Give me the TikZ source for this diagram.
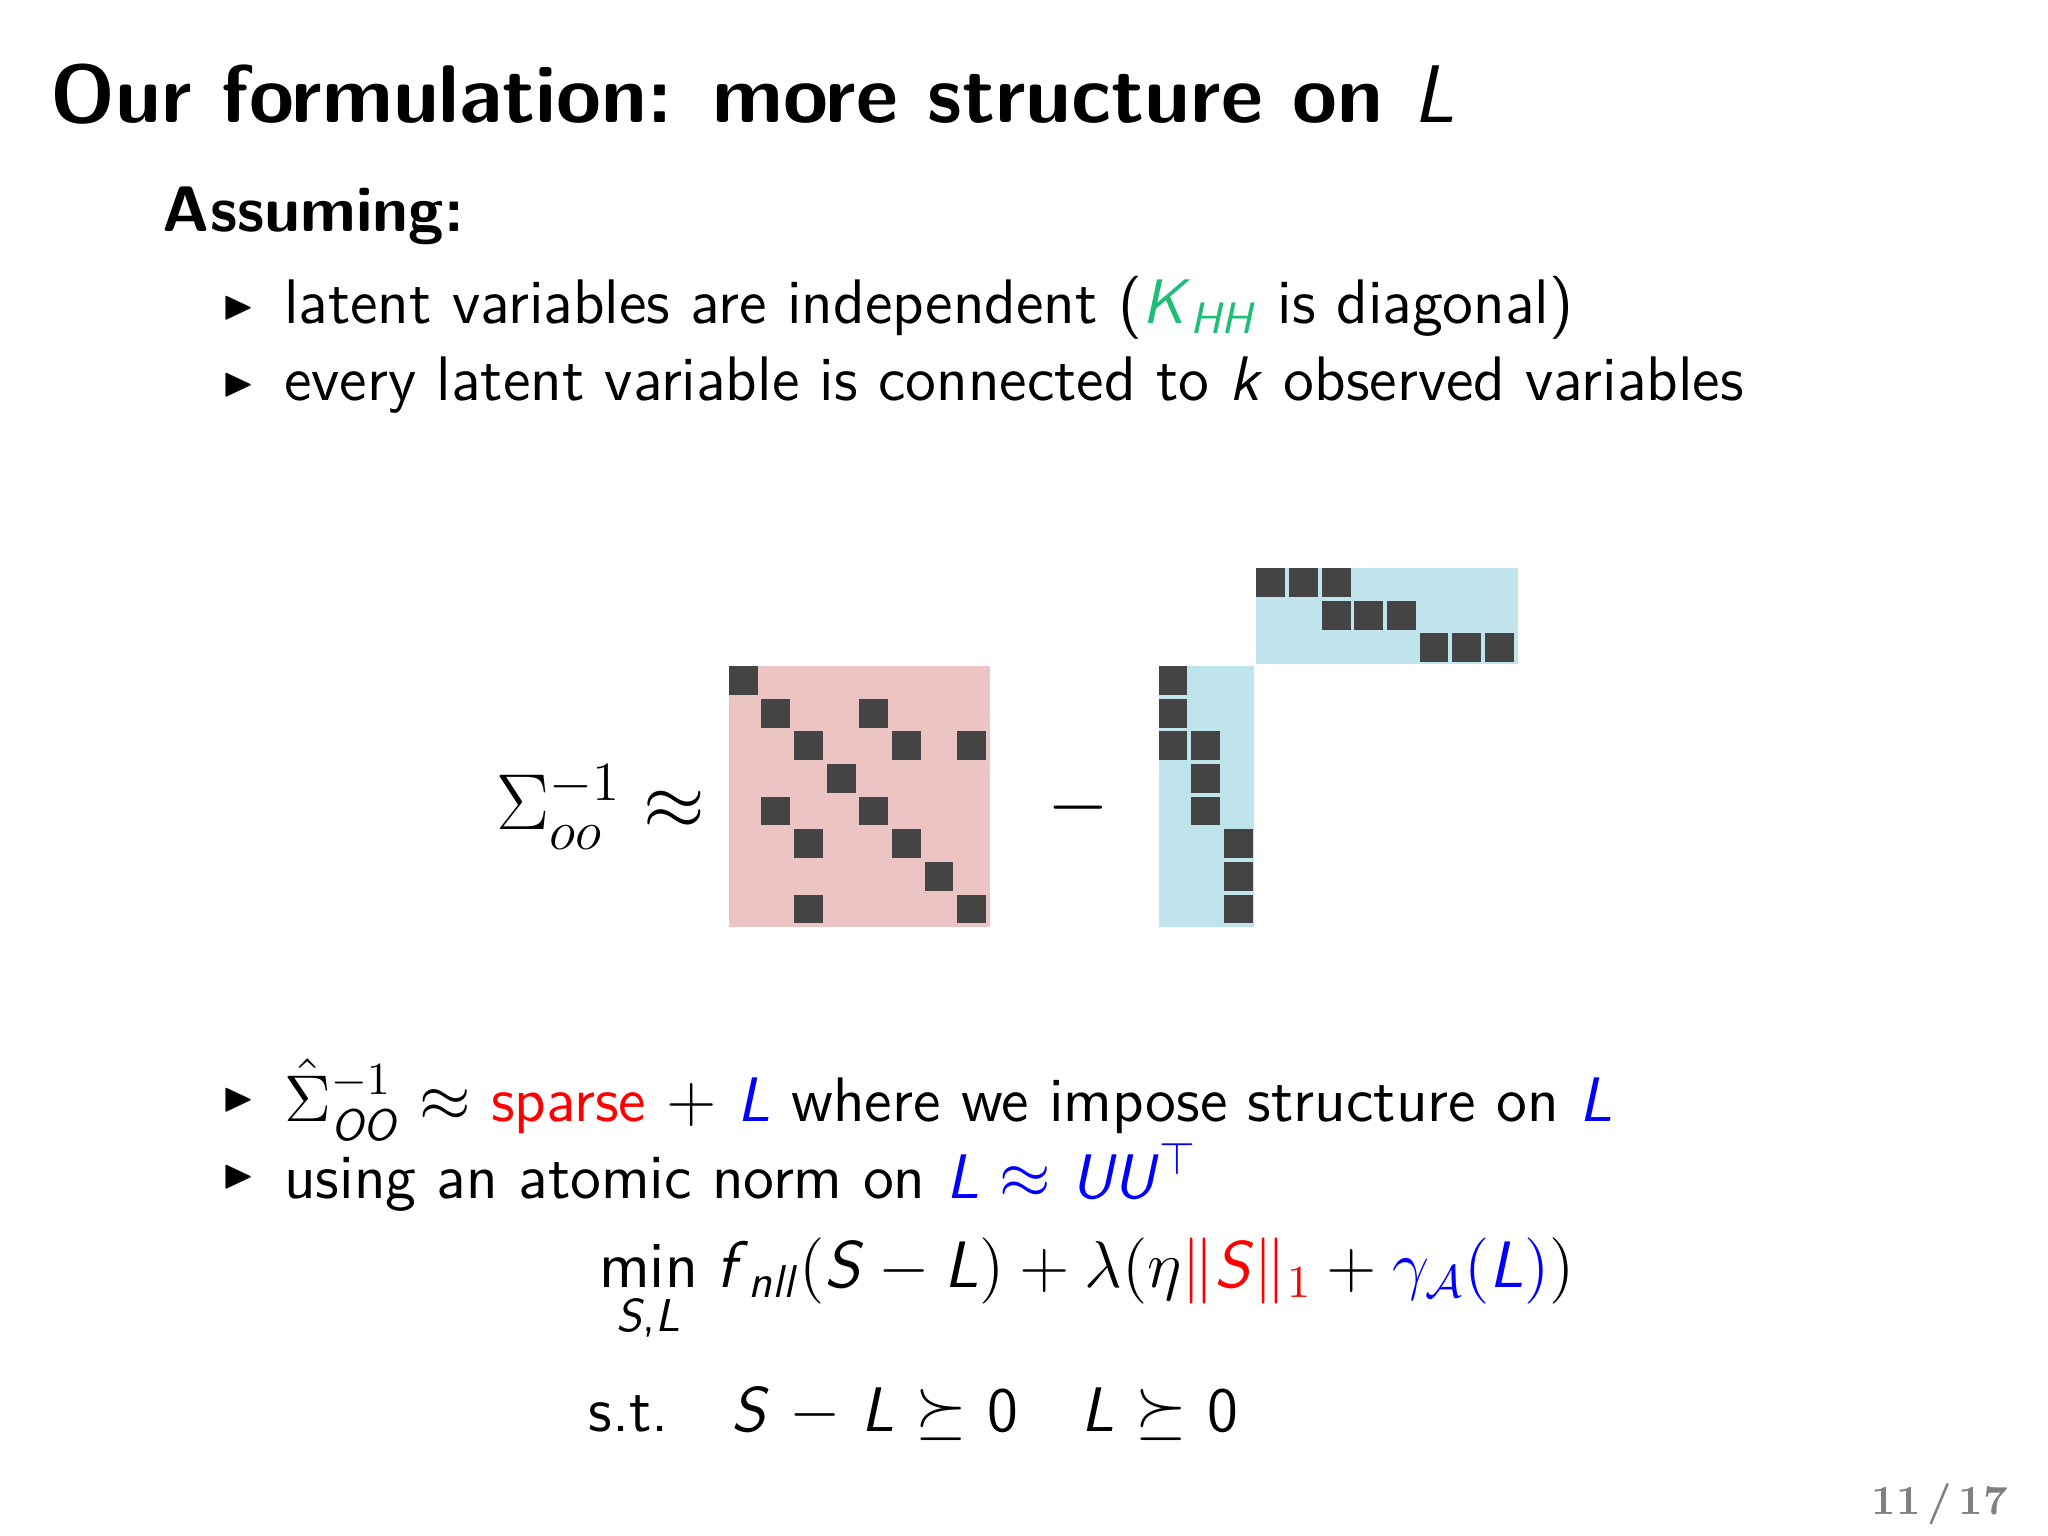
\documentclass[tikz,border=0pt]{standalone}
\usepackage{amsmath,amssymb}
\newcommand\si[1]{\textsf{\itshape #1}}
\definecolor{mgreen}{RGB}{30,190,120}
\definecolor{pinkm}{RGB}{236,196,196}
\definecolor{bluem}{RGB}{192,228,236}
\definecolor{darkc}{RGB}{68,68,68}
\begin{document}
\begin{tikzpicture}[x=0.01cm,y=-0.01cm,
  txt/.style={anchor=west,inner sep=0pt,font=\sffamily\fontsize{13.7}{16}\selectfont},
  bul/.style={anchor=west,inner sep=0pt,font=\fontsize{9}{10}\selectfont},
  cell/.style={fill=darkc}]
\useasboundingbox (0,0) rectangle (1568,1176);
\node[anchor=west,inner sep=0pt,font=\sffamily\fontsize{17.8}{22}\selectfont\bfseries] (title) at (38,72) {Our formulation: more structure on \textmd{\si{L}}};
\node[txt,font=\sffamily\fontsize{14}{16}\selectfont\bfseries] (ass) at (124,165) {Assuming:};
\node[bul] (b1) at (170,236) {$\blacktriangleright$};
\node[txt] (t1) at (217,236) {latent variables are independent (\textcolor{mgreen}{\si{K}$_{\text{\si{HH}}}$} is diagonal)};
\node[bul] (b2) at (170,295) {$\blacktriangleright$};
\node[txt] (t2) at (217,295) {every latent variable is connected to \si{k} observed variables};
% pink matrix
\fill[pinkm] (558,510) rectangle (758,710);
\foreach \r/\c in {0/0,1/1,2/2,3/3,4/4,5/5,6/6,7/7,1/4,4/1,2/5,5/2,2/7,7/2}
  \fill[cell] (558+25*\c,510+25*\r) rectangle ++(22,22);
\fill[bluem] (887,510) rectangle (960,710);
\foreach \r/\c in {0/0,1/0,2/0,2/1,3/1,4/1,5/2,6/2,7/2}
  \fill[cell] (887+25*\c,510+25*\r) rectangle ++(22,22);
\fill[bluem] (962,435) rectangle (1162,508);
\foreach \r/\c in {0/0,0/1,0/2,1/2,1/3,1/4,2/5,2/6,2/7}
  \fill[cell] (962+25*\c,435+25*\r) rectangle ++(22,22);
\node[anchor=center,font=\fontsize{18}{22}\selectfont] (lhs) at (460,618) {$\Sigma^{-1}_{oo}\approx$};
\node[font=\fontsize{18}{22}\selectfont] (minus) at (826,618) {$-$};
\node[bul] (b3) at (170,842) {$\blacktriangleright$};
\node[txt] (t3) at (217,842) {$\hat\Sigma^{-1}_{\text{\si{OO}}}\approx$ \textcolor{red}{sparse} $+$ \textcolor{blue}{\si{L}} where we impose structure on \textcolor{blue}{\si{L}}};
\node[bul] (b4) at (170,901) {$\blacktriangleright$};
\node[txt] (t4) at (217,901) {using an atomic norm on \textcolor{blue}{\si{L} $\approx$ \si{UU}$^{\top}$}};
\node[txt,font=\sffamily\fontsize{14.3}{17}\selectfont] (eq1) at (458,988) {$\underset{\text{\si{S},\si{L}}}{\text{\sffamily min}}\;\text{\si{f}}_{\text{\si{nll}}}(\text{\si{S}}-\text{\si{L}})+\lambda(\eta\textcolor{red}{\|\text{\si{S}}\|_1}+\textcolor{blue}{\gamma_{\mathcal{A}}(\text{\si{L}})})$};
\node[txt] (eq2) at (450,1082) {s.t.\quad \si{S} $-$ \si{L} $\succeq$ 0\quad \si{L} $\succeq$ 0};
\node[anchor=east,inner sep=0pt,text=gray,font=\fontsize{9}{11}\selectfont\rmfamily\bfseries] (pg) at (1538,1152) {11\,/\,17};
\end{tikzpicture}
\end{document}
